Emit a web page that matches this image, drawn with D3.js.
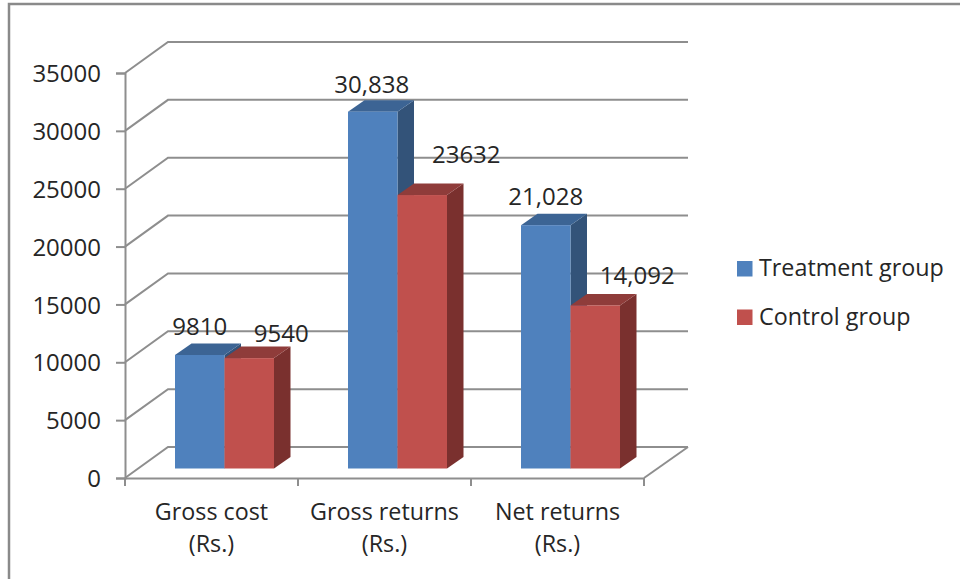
<!DOCTYPE html>
<html>
<head>
<meta charset="utf-8">
<script src="https://cdn.jsdelivr.net/npm/d3@7"></script>
<style>
  html, body { margin: 0; padding: 0; background: #fff; overflow: hidden; }
  text { font-family: "Open Sans", sans-serif; fill: #262626; }
</style>
</head>
<body>
<div id="chart"></div>
<script>
const categories = ["Gross cost", "Gross returns", "Net returns"]
const categoryUnits = ["(Rs.)", "(Rs.)", "(Rs.)"]
const seriesNames = ["Treatment group", "Control group"]
const treatment = [9810, 30838, 21028]
const control = [9540, 23632, 14092]
const treatmentLabels = ["9810", "30,838", "21,028"]
const controlLabels = ["9540", "23632", "14,092"]
// hand placed labels in the original, nudged off the bar centre
const treatmentNudge = [[0, -20], [-1, -19], [0, -20]]
const controlNudge = [[32, -16], [44, -32], [42, -21]]
const yTicks = [0, 5000, 10000, 15000, 20000, 25000, 30000, 35000]

const width = 960, height = 579
const colors = [
  {front: "#4f81bd", top: "#3c6494", side: "#335379"},
  {front: "#c0504d", top: "#8f3c3a", side: "#7a302e"}
]
const gridColor = "#8e8e8e"
const numberSize = 24
const textSize = 23.3

// 3d look: wall sits up and right of the axes, bars in between
const wall = {dx: 43, dy: -31}
const barPlane = {dx: 13, dy: -9.5}
const depth = {dx: 16.5, dy: -11.5}

const x = d3.scaleBand().domain(categories).range([125, 644])
const xSeries = d3.scaleBand().domain(seriesNames).range([0, 99])
const y = d3.scaleLinear().domain([0, 35000]).range([478, 73])

const svg = d3.select("#chart").append("svg")
  .attr("width", width)
  .attr("height", height)

// outer frame, runs off the right and bottom of the image
svg.append("path")
  .attr("d", `M9,${height + 5}V4H${width + 5}`)
  .attr("fill", "none")
  .attr("stroke", "#8a8a8a")
  .attr("stroke-width", 2.5)

// gridlines on wall + side wall
const grid = svg.append("g")
  .attr("fill", "none")
  .attr("stroke", gridColor)
  .attr("stroke-width", 2)

grid.selectAll("path")
  .data(yTicks)
  .join("path")
  .attr("d", d => {
    const x0 = x.range()[0], yy = y(d)
    return `M${x0},${yy}L${x0 + wall.dx},${yy + wall.dy}H${x.range()[1] + wall.dx + 1}`
  })

// floor edge on the right
grid.append("path")
  .attr("d", `M${x.range()[1]},${y(0)}L${x.range()[1] + wall.dx + 1},${y(0) + wall.dy}`)

// axes
const yAxis = svg.append("g")
  .attr("transform", `translate(${x.range()[0]},0)`)
  .call(d3.axisLeft(y).tickValues(yTicks).tickFormat(d => d).tickSize(9).tickPadding(15))

const xAxis = svg.append("g")
  .attr("transform", `translate(0,${y(0)})`)
  .call(d3.axisBottom(x).tickSize(0).tickFormat(""))

xAxis.selectAll(".tick").remove()

xAxis.selectAll("line.sep")
  .data(d3.range(categories.length + 1))
  .join("line")
  .attr("class", "sep")
  .attr("x1", i => x.range()[0] + i * x.step())
  .attr("x2", i => x.range()[0] + i * x.step())
  .attr("y1", 0)
  .attr("y2", 8)

svg.selectAll(".domain, .tick line, line.sep")
  .attr("stroke", gridColor)
  .attr("stroke-width", 2)

yAxis.selectAll("text")
  .attr("font-size", numberSize)
  .attr("dy", "0.36em")

// category labels
const catLabels = svg.append("g")
  .attr("text-anchor", "middle")
  .attr("font-size", textSize)

catLabels.selectAll("text.cat")
  .data(categories)
  .join("text")
  .attr("class", "cat")
  .attr("x", d => x(d) + x.bandwidth() / 2)
  .attr("y", y(0) + 42)
  .text(d => d)

catLabels.selectAll("text.unit")
  .data(categoryUnits)
  .join("text")
  .attr("class", "unit")
  .attr("x", (d, i) => x(categories[i]) + x.bandwidth() / 2)
  .attr("y", y(0) + 74)
  .text(d => d)

// bars, treatment first so the control bar covers its side face
const base = y(0) + barPlane.dy
const barLeft = (cat, name) => x(cat) + x.bandwidth() / 2 + barPlane.dx - xSeries.range()[1] / 2 + xSeries(name)
const barTop = v => y(v) + barPlane.dy

function drawSeries(values, name, color){
  const bars = svg.append("g").selectAll("g")
    .data(values)
    .join("g")

  bars.append("path")
    .attr("fill", color.side)
    .attr("d", (d, i) => {
      const r = barLeft(categories[i], name) + xSeries.bandwidth()
      return `M${r},${base}V${barTop(d)}l${depth.dx},${depth.dy}V${base + depth.dy}Z`
    })

  bars.append("path")
    .attr("fill", color.top)
    .attr("d", (d, i) => {
      const l = barLeft(categories[i], name)
      return `M${l},${barTop(d)}l${depth.dx},${depth.dy}h${xSeries.bandwidth()}l${-depth.dx},${-depth.dy}Z`
    })

  bars.append("rect")
    .attr("fill", color.front)
    .attr("x", (d, i) => barLeft(categories[i], name))
    .attr("y", d => barTop(d))
    .attr("width", xSeries.bandwidth())
    .attr("height", d => base - barTop(d))
}

drawSeries(treatment, seriesNames[0], colors[0])
drawSeries(control, seriesNames[1], colors[1])

// data labels
function drawLabels(values, labels, nudge, name){
  svg.append("g").selectAll("text")
    .data(values)
    .join("text")
    .attr("text-anchor", "middle")
    .attr("font-size", numberSize)
    .attr("x", (d, i) => barLeft(categories[i], name) + xSeries.bandwidth() / 2 + nudge[i][0])
    .attr("y", (d, i) => barTop(d) + nudge[i][1])
    .text((d, i) => labels[i])
}

drawLabels(treatment, treatmentLabels, treatmentNudge, seriesNames[0])
drawLabels(control, controlLabels, controlNudge, seriesNames[1])

// legend
const legendY = d3.scalePoint().domain(seriesNames).range([268.5, 317])

const legend = svg.append("g").selectAll("g")
  .data(seriesNames)
  .join("g")
  .attr("transform", d => `translate(737,${legendY(d)})`)

legend.append("rect")
  .attr("x", 0)
  .attr("y", -7.5)
  .attr("width", 15.5)
  .attr("height", 15.5)
  .attr("fill", (d, i) => colors[i].front)

legend.append("text")
  .attr("x", 22)
  .attr("y", 7.5)
  .attr("font-size", textSize)
  .text(d => d)
</script>
</body>
</html>
